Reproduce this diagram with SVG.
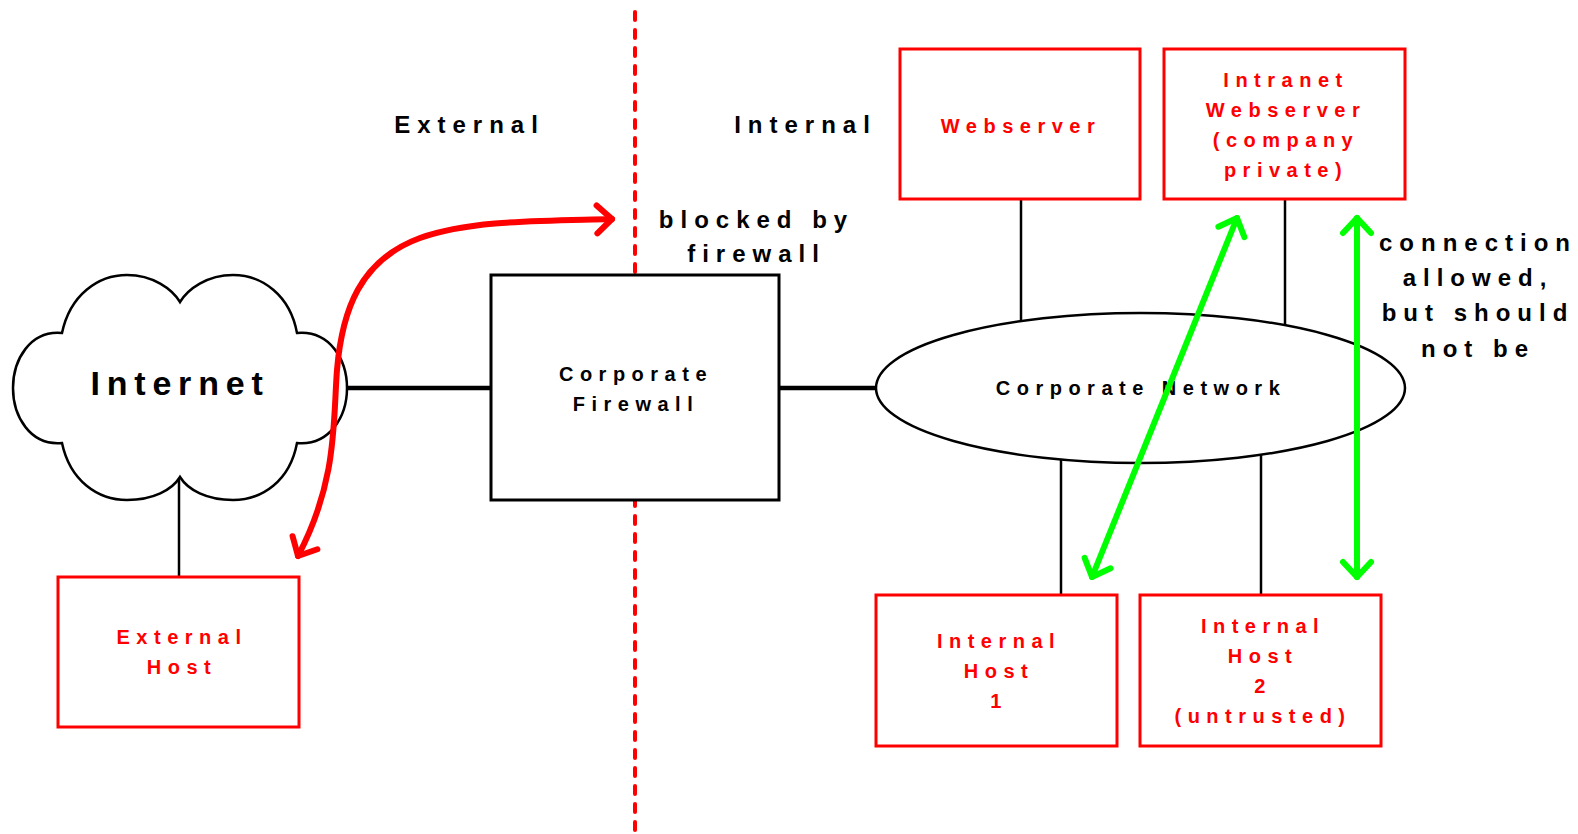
<svg xmlns="http://www.w3.org/2000/svg" width="1578" height="834" viewBox="0 0 1578 834">
<style>
  text { font-family: "Liberation Sans", Arial, sans-serif; font-weight: bold; text-anchor: middle; }
  .node { font-size: 20px; letter-spacing: 6.5px; }
  .red { fill: #ff0000; }
  .blk { fill: #000000; }
  .label { font-size: 24px; letter-spacing: 7px; fill: #000; }
  .big { font-size: 34px; letter-spacing: 6.8px; fill: #000; }
  .rbox { fill: #ffffff; stroke: #ff0000; stroke-width: 3; }
  .kbox { fill: #ffffff; stroke: #000000; stroke-width: 3; }
  .wire { stroke: #000; stroke-width: 2.5; fill: none; }
  .thick { stroke: #000; stroke-width: 4.5; fill: none; }
  .redarrow { stroke: #ff0000; stroke-width: 6; fill: none; stroke-linecap: round; stroke-linejoin: round; marker-start: url(#chevR); marker-end: url(#chevR); }
  .grnarrow { stroke: #00ff00; stroke-width: 6; fill: none; stroke-linecap: round; stroke-linejoin: round; marker-start: url(#chevG); marker-end: url(#chevG); }
</style>
<defs>
  <marker id="chevR" markerUnits="userSpaceOnUse" viewBox="-25 -25 50 50" markerWidth="50" markerHeight="50" refX="0" refY="0" orient="auto-start-reverse" overflow="visible">
    <path d="M -15,-14 L 0,0 L -15,14" fill="none" stroke="#ff0000" stroke-width="6" stroke-linecap="round" stroke-linejoin="round"/>
  </marker>
  <marker id="chevG" markerUnits="userSpaceOnUse" viewBox="-25 -25 50 50" markerWidth="50" markerHeight="50" refX="0" refY="0" orient="auto-start-reverse" overflow="visible">
    <path d="M -15,-14 L 0,0 L -15,14" fill="none" stroke="#00ff00" stroke-width="6" stroke-linecap="round" stroke-linejoin="round"/>
  </marker>
</defs>
<rect x="0" y="0" width="1578" height="834" fill="#ffffff"/>

<!-- boundary line -->
<line id="boundary" x1="635" y1="12" x2="635" y2="834" stroke="#ff0000" stroke-width="4" stroke-dasharray="8 10" stroke-linecap="round"/>

<!-- zone labels -->
<g id="labels">
  <text class="label" x="469.5" y="133">External</text>
  <text class="label" x="805.5" y="133">Internal</text>
  <text class="label" x="756.5" y="228">blocked by</text>
  <text class="label" x="756.5" y="262">firewall</text>
  <text class="label" x="1478" y="251">connection</text>
  <text class="label" x="1478" y="286">allowed,</text>
  <text class="label" x="1478" y="321">but should</text>
  <text class="label" x="1478" y="357">not be</text>
</g>

<!-- connectors -->
<g id="connectors">
  <line class="thick" x1="346" y1="388" x2="491" y2="388"/>
  <line class="thick" x1="779" y1="388" x2="877" y2="388"/>
  <line class="wire" x1="179" y1="477" x2="179" y2="577"/>
  <line class="wire" x1="1021" y1="199" x2="1021" y2="322"/>
  <line class="wire" x1="1285" y1="199" x2="1285" y2="325"/>
  <line class="wire" x1="1061" y1="459" x2="1061" y2="595"/>
  <line class="wire" x1="1261" y1="455" x2="1261" y2="595"/>
</g>

<!-- nodes -->
<g id="internet">
  <path d="M 62,333 C 70,295 98,275 127,275 C 153,275 172,289 180,302 C 188,289 207,275 233,275 C 262,275 290,295 297,333 C 330,330 347,360 347,388 C 347,416 330,446 297,443 C 290,481 262,500 233,500 C 207,500 188,490 180,477 C 172,490 153,500 127,500 C 98,500 70,481 62,443 C 30,446 13,416 13,388 C 13,360 30,330 62,333 Z" fill="#ffffff" stroke="#000" stroke-width="2.5" stroke-linejoin="miter"/>
  <text class="big" x="180" y="395">Internet</text>
</g>

<g id="firewall">
  <rect class="kbox" x="491" y="275" width="288" height="225"/>
  <text class="node blk" x="636" y="381">Corporate</text>
  <text class="node blk" x="636" y="411">Firewall</text>
</g>

<g id="corpnet">
  <ellipse cx="1140.5" cy="388" rx="264.5" ry="75" fill="#ffffff" stroke="#000" stroke-width="2.5"/>
  <text class="node blk" x="1141" y="395">Corporate Network</text>
</g>

<g id="webserver">
  <rect class="rbox" x="900" y="49" width="240" height="150"/>
  <text class="node red" x="1021" y="133">Webserver</text>
</g>

<g id="intranet">
  <rect class="rbox" x="1164" y="49" width="241" height="150"/>
  <text class="node red" x="1286" y="87">Intranet</text>
  <text class="node red" x="1286" y="117">Webserver</text>
  <text class="node red" x="1286" y="147">(company</text>
  <text class="node red" x="1286" y="177">private)</text>
</g>

<g id="externalhost">
  <rect class="rbox" x="58" y="577" width="241" height="150"/>
  <text class="node red" x="182" y="644">External</text>
  <text class="node red" x="182" y="674">Host</text>
</g>

<g id="host1">
  <rect class="rbox" x="876" y="595" width="241" height="151"/>
  <text class="node red" x="999" y="648">Internal</text>
  <text class="node red" x="999" y="678">Host</text>
  <text class="node red" x="999" y="708">1</text>
</g>

<g id="host2">
  <rect class="rbox" x="1140" y="595" width="241" height="151"/>
  <text class="node red" x="1263" y="633">Internal</text>
  <text class="node red" x="1263" y="663">Host</text>
  <text class="node red" x="1263" y="693">2</text>
  <text class="node red" x="1263" y="723">(untrusted)</text>
</g>

<!-- annotation arrows -->
<g id="arrows">
  <path class="redarrow" d="M 612,219 C 540,221 470,220 420,238 C 360,260 342,310 337,370 C 333,420 338,480 298,556"/>
  <line class="grnarrow" x1="1092" y1="577" x2="1237" y2="218"/>
  <line class="grnarrow" x1="1357" y1="577" x2="1357" y2="218"/>
</g>
</svg>
